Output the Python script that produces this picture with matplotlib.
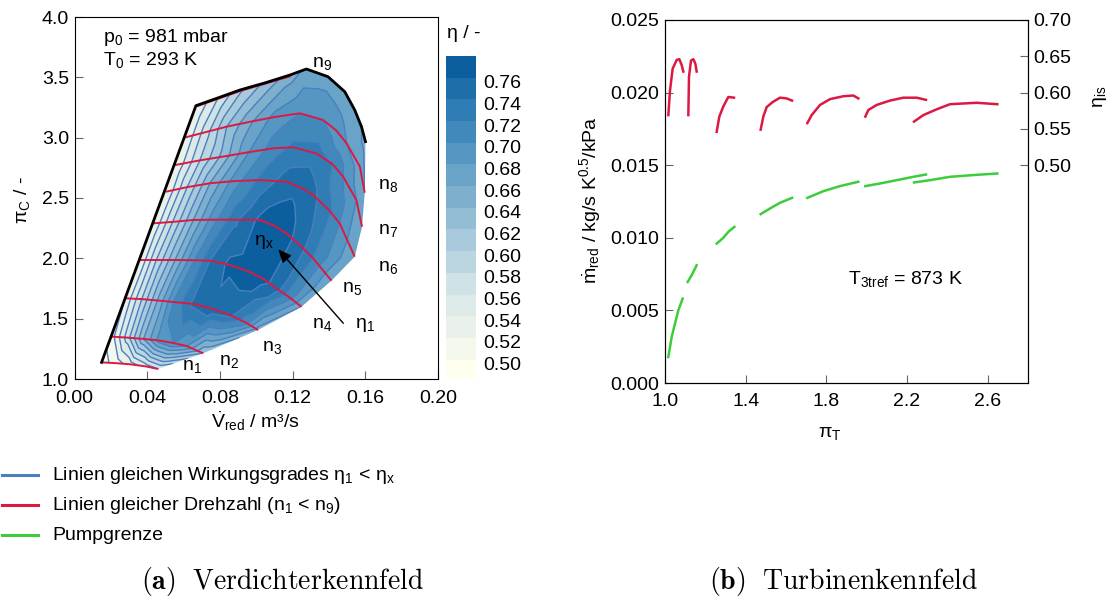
import numpy as np
import matplotlib
matplotlib.use("Agg")
import matplotlib.pyplot as plt
import matplotlib.tri as mtri
from matplotlib.path import Path
from matplotlib.patches import PathPatch
from matplotlib.colors import LinearSegmentedColormap, ListedColormap, BoundaryNorm
from matplotlib.lines import Line2D
from matplotlib.transforms import ScaledTranslation

plt.rcParams['font.family'] = ['Liberation Sans', 'DejaVu Sans']
plt.rcParams['mathtext.fontset'] = 'custom'
plt.rcParams['mathtext.rm'] = 'Liberation Sans'
plt.rcParams['mathtext.it'] = 'Liberation Sans:italic'
plt.rcParams['mathtext.bf'] = 'Liberation Sans:bold'
plt.rcParams['mathtext.sf'] = 'Liberation Sans'

# ---------------- compressor map: speed lines (V_red, pi_C, eta) ----------------
n1_V = [0.0149, 0.0230, 0.0305, 0.0390, 0.0461]
n1_pi = [1.138, 1.131, 1.122, 1.105, 1.083]
n1_eta = [0.49, 0.51, 0.53, 0.55, 0.56]

n2_V = [0.0204, 0.0290, 0.0380, 0.0470, 0.0545, 0.0617, 0.0708]
n2_pi = [1.351, 1.343, 1.332, 1.318, 1.298, 1.273, 1.213]
n2_eta = [0.51, 0.57, 0.64, 0.69, 0.70, 0.68, 0.62]

n3_V = [0.0278, 0.0370, 0.0470, 0.0560, 0.0653, 0.0760, 0.0855, 0.0940, 0.1010]
n3_pi = [1.669, 1.662, 1.649, 1.636, 1.622, 1.582, 1.530, 1.470, 1.406]
n3_eta = [0.52, 0.58, 0.65, 0.71, 0.745, 0.755, 0.745, 0.71, 0.65]

n4_V = [0.0360, 0.0450, 0.0562, 0.0660, 0.0745, 0.0850, 0.0947, 0.1040, 0.1111, 0.1180, 0.1249]
n4_pi = [1.986, 1.986, 1.986, 1.984, 1.981, 1.948, 1.898, 1.830, 1.751, 1.680, 1.599]
n4_eta = [0.52, 0.58, 0.645, 0.70, 0.74, 0.765, 0.772, 0.768, 0.75, 0.71, 0.66]

n5_V = [0.0434, 0.0540, 0.0654, 0.0760, 0.0880, 0.1020, 0.1100, 0.1166, 0.1240, 0.1313, 0.1414]
n5_pi = [2.290, 2.302, 2.318, 2.320, 2.320, 2.318, 2.270, 2.207, 2.110, 2.000, 1.815]
n5_eta = [0.52, 0.58, 0.64, 0.69, 0.735, 0.765, 0.772, 0.768, 0.75, 0.72, 0.66]

n6_V = [0.0503, 0.0620, 0.0745, 0.0880, 0.1020, 0.1166, 0.1240, 0.1313, 0.1400, 0.1459, 0.1542]
n6_pi = [2.552, 2.590, 2.622, 2.640, 2.649, 2.635, 2.590, 2.525, 2.400, 2.290, 2.014]
n6_eta = [0.52, 0.58, 0.64, 0.69, 0.725, 0.75, 0.755, 0.745, 0.725, 0.70, 0.66]

n7_V = [0.0553, 0.0690, 0.0837, 0.0960, 0.1093, 0.1203, 0.1331, 0.1420, 0.1478, 0.1551, 0.1582]
n7_pi = [2.773, 2.812, 2.848, 2.880, 2.912, 2.920, 2.870, 2.780, 2.677, 2.483, 2.262]
n7_eta = [0.52, 0.58, 0.635, 0.68, 0.71, 0.725, 0.73, 0.72, 0.70, 0.68, 0.66]

n8_V = [0.0604, 0.0720, 0.0837, 0.0960, 0.1093, 0.1240, 0.1368, 0.1440, 0.1497, 0.1570, 0.1597]
n8_pi = [3.000, 3.045, 3.091, 3.130, 3.169, 3.202, 3.146, 3.060, 2.953, 2.760, 2.544]
n8_eta = [0.52, 0.57, 0.62, 0.655, 0.685, 0.70, 0.70, 0.69, 0.68, 0.67, 0.66]

n9_V = [0.0677, 0.0910, 0.1185]
n9_pi = [3.262, 3.386, 3.508]

# upper envelope of the map (top speed line and its continuation)
top_V = [0.0668, 0.0790, 0.0910, 0.1050, 0.1185, 0.1276, 0.1395, 0.1487, 0.1542, 0.1579, 0.1601]
top_pi = [3.265, 3.330, 3.395, 3.455, 3.519, 3.569, 3.505, 3.381, 3.229, 3.091, 2.967]
top_eta = [0.52, 0.56, 0.595, 0.625, 0.65, 0.665, 0.67, 0.665, 0.665, 0.66, 0.655]

eta_levels = [0.48, 0.50, 0.52, 0.54, 0.56, 0.58, 0.60, 0.62, 0.64, 0.66,
              0.68, 0.70, 0.72, 0.74, 0.76, 0.78]
cbar_ticks = [0.50, 0.52, 0.54, 0.56, 0.58, 0.60, 0.62, 0.64, 0.66, 0.68,
              0.70, 0.72, 0.74, 0.76]

# ---------------- turbine map segments ----------------
eta_t1_pi = [1.0165, 1.0248, 1.038, 1.0579, 1.0711, 1.0826, 1.0909]
eta_t1 = [0.569, 0.603, 0.633, 0.645, 0.646, 0.638, 0.629]
eta_t2_pi = [1.1157, 1.119, 1.1289, 1.1405, 1.1504, 1.157]
eta_t2 = [0.569, 0.622, 0.644, 0.646, 0.640, 0.629]
eta_t3_pi = [1.2562, 1.2694, 1.2893, 1.314, 1.3421]
eta_t3 = [0.546, 0.567, 0.581, 0.594, 0.593]
eta_t4_pi = [1.4744, 1.4876, 1.5041, 1.5339, 1.5702, 1.6033, 1.6298]
eta_t4 = [0.549, 0.567, 0.580, 0.587, 0.593, 0.592, 0.589]
eta_t5_pi = [1.7058, 1.7273, 1.7686, 1.8182, 1.8843, 1.9339, 1.9587]
eta_t5 = [0.558, 0.569, 0.583, 0.591, 0.595, 0.596, 0.592]
eta_t6_pi = [1.9934, 2.0083, 2.0496, 2.1157, 2.1818, 2.2479, 2.2942]
eta_t6 = [0.567, 0.576, 0.583, 0.589, 0.593, 0.593, 0.590]
eta_t7_pi = [2.2347, 2.281, 2.3471, 2.4132, 2.4793, 2.5455, 2.6479]
eta_t7 = [0.560, 0.569, 0.577, 0.584, 0.585, 0.586, 0.584]

m_t1_pi = [1.0165, 1.0331, 1.0496, 1.0661, 1.0876]
m_t1 = [0.00179, 0.00317, 0.00409, 0.00501, 0.00581]
m_t2_pi = [1.1124, 1.1322, 1.157]
m_t2 = [0.00696, 0.00742, 0.00811]
m_t3_pi = [1.2562, 1.2893, 1.314, 1.3438]
m_t3 = [0.00960, 0.01000, 0.01041, 0.01075]
m_t4_pi = [1.4744, 1.5207, 1.5702, 1.6298]
m_t4 = [0.01163, 0.01202, 0.01241, 0.01275]
m_t5_pi = [1.7058, 1.7851, 1.8678, 1.9587]
m_t5 = [0.01275, 0.01321, 0.01356, 0.01386]
m_t6_pi = [1.9934, 2.0661, 2.1488, 2.2314, 2.2942]
m_t6 = [0.01356, 0.01374, 0.01397, 0.01420, 0.01436]
m_t7_pi = [2.2347, 2.314, 2.4132, 2.5289, 2.6479]
m_t7 = [0.01381, 0.01397, 0.01420, 0.01432, 0.01443]

# ---------------- styling ----------------
RED = '#dc1942'
GREEN = '#3ccc3c'
BLUE_LINE = '#4a80c0'
FS = 14

band_cmap = LinearSegmentedColormap.from_list(
    'eta', ['#fffff0', '#eaf1ea', '#cfe2e6', '#a9cadc', '#7eb0cd',
            '#5596c2', '#2f7db4', '#0b5f9e'])
n_bands = len(eta_levels) - 1
band_colors = [band_cmap(i / (n_bands - 1)) for i in range(n_bands)]
cmap = ListedColormap(band_colors)
cmap.set_under(band_colors[0])
cmap.set_over(band_colors[-1])
norm = BoundaryNorm(eta_levels, n_bands)

fig = plt.figure(figsize=(11.19, 5.98), dpi=100)

# ================= left: compressor map =================
ax = fig.add_axes([74.5 / 1119, 1 - 379 / 598, 363.5 / 1119, 362 / 598])

speed_lines = [(n1_V, n1_pi, n1_eta), (n2_V, n2_pi, n2_eta), (n3_V, n3_pi, n3_eta),
               (n4_V, n4_pi, n4_eta), (n5_V, n5_pi, n5_eta), (n6_V, n6_pi, n6_eta),
               (n7_V, n7_pi, n7_eta), (n8_V, n8_pi, n8_eta)]

pts_V = np.concatenate([np.asarray(s[0]) for s in speed_lines] + [np.asarray(top_V)])
pts_pi = np.concatenate([np.asarray(s[1]) for s in speed_lines] + [np.asarray(top_pi)])
pts_eta = np.concatenate([np.asarray(s[2]) for s in speed_lines] + [np.asarray(top_eta)])

# outline of the operating range: surge line, upper envelope, choke side, n1
outline = [(s[0][0], s[1][0]) for s in speed_lines]
outline += list(zip(top_V, top_pi))
outline += [(s[0][-1], s[1][-1]) for s in speed_lines[::-1]]
outline += list(zip(n1_V[::-1], n1_pi[::-1]))[1:]
outline_path = Path(outline + [outline[0]], closed=True)

# triangulate in axis-normalised coordinates so triangles are well shaped on screen
base = mtri.Triangulation(pts_V / 0.2, (pts_pi - 1.0) / 3.0)
tri = mtri.Triangulation(pts_V, pts_pi, base.triangles)
cx = pts_V[tri.triangles].mean(axis=1)
cy = pts_pi[tri.triangles].mean(axis=1)
tri.set_mask(~outline_path.contains_points(np.column_stack([cx, cy])))

clip = PathPatch(outline_path, transform=ax.transData, facecolor='none', edgecolor='none')
ax.add_patch(clip)
cf = ax.tricontourf(tri, pts_eta, levels=eta_levels, cmap=cmap, norm=norm, extend='both')
cf.set_clip_path(clip)
cl = ax.tricontour(tri, pts_eta, levels=eta_levels[1:-1], colors=BLUE_LINE, linewidths=1.0)
cl.set_clip_path(clip)

for V, p, _ in speed_lines:
    ax.plot(V, p, color=RED, lw=1.4, solid_capstyle='butt', zorder=4)
ax.plot(n9_V, n9_pi, color=RED, lw=1.4, zorder=4)

env_V = [n1_V[0]] + top_V
env_pi = [n1_pi[0]] + top_pi
ax.plot(env_V, env_pi, color='black', lw=2.0, zorder=5, solid_joinstyle='round')

ax.set_xlim(0.0, 0.20)
ax.set_ylim(1.0, 4.0)
ax.set_xticks([0.00, 0.04, 0.08, 0.12, 0.16, 0.20])
ax.set_xticklabels(['0.00', '0.04', '0.08', '0.12', '0.16', '0.20'])
ax.set_yticks([1.0, 1.5, 2.0, 2.5, 3.0, 3.5, 4.0])
ax.set_yticklabels(['1.0', '1.5', '2.0', '2.5', '3.0', '3.5', '4.0'])
ax.tick_params(direction='in', length=6, width=0.8, color='#666666', labelsize=FS, pad=4)
ax.tick_params(axis='x', pad=8)

speed_labels = [('n$_\\mathrm{1}$', 0.0645, 1.102), ('n$_\\mathrm{2}$', 0.0850, 1.143),
                ('n$_\\mathrm{3}$', 0.1088, 1.263), ('n$_\\mathrm{4}$', 0.1363, 1.448),
                ('n$_\\mathrm{5}$', 0.1528, 1.752), ('n$_\\mathrm{6}$', 0.1727, 1.926),
                ('n$_\\mathrm{7}$', 0.1727, 2.230), ('n$_\\mathrm{8}$', 0.1727, 2.603),
                ('n$_\\mathrm{9}$', 0.1363, 3.612)]
for s, x, y in speed_labels:
    ax.text(x, y, s, fontsize=FS, ha='center', va='center', zorder=6)

ax.text(0.1044, 2.138, 'η$_\\mathrm{x}$', fontsize=FS, ha='center', va='center', zorder=6)
ax.text(0.1598, 1.448, 'η$_\\mathrm{1}$', fontsize=FS, ha='center', va='center', zorder=6)
ax.annotate('', xy=(0.1121, 2.075), xytext=(0.1479, 1.462),
            arrowprops=dict(arrowstyle='-|>,head_length=0.8,head_width=0.35',
                            color='black', lw=1.0, shrinkA=0, shrinkB=0), zorder=6)

ax.text(0.0158, 3.833, 'p$_\\mathrm{0}$ = 981 mbar', fontsize=FS, ha='left', va='center')
ax.text(0.0158, 3.645, 'T$_\\mathrm{0}$ = 293 K', fontsize=FS, ha='left', va='center')

fig.text(22 / 1119, 1 - 200 / 598, 'π$_\\mathrm{C}$ / -', rotation=90, fontsize=FS,
         ha='center', va='center')
fig.text(255 / 1119, 1 - 421 / 598, '$\\dot{\\mathrm{V}}_\\mathrm{red}$ / m³/s',
         fontsize=FS, ha='center', va='center')

# colour bar
cax = fig.add_axes([446 / 1119, 1 - 378 / 598, 30 / 1119, 322 / 598])
for i in range(n_bands):
    cax.axhspan(eta_levels[i], eta_levels[i + 1], color=band_colors[i], lw=0)
cax.set_xlim(0, 1)
cax.set_ylim(0.483, 0.78)
cax.set_xticks([])
cax.yaxis.tick_right()
cax.set_yticks(cbar_ticks)
cax.set_yticklabels([f'{t:.2f}' for t in cbar_ticks])
cax.tick_params(axis='y', length=0, labelsize=FS, pad=5)
for lab in cax.get_yticklabels():
    lab.set_transform(lab.get_transform() + ScaledTranslation(0, -0.04, fig.dpi_scale_trans))
for sp in cax.spines.values():
    sp.set_visible(False)
fig.text(447 / 1119, 1 - 33 / 598, 'η / -', fontsize=FS, ha='left', va='center')

# legend
legend_items = [(BLUE_LINE, 'Linien gleichen Wirkungsgrades η$_\\mathrm{1}$ < η$_\\mathrm{x}$', 475),
                (RED, 'Linien gleicher Drehzahl (n$_\\mathrm{1}$ < n$_\\mathrm{9}$)', 505),
                (GREEN, 'Pumpgrenze', 535)]
for col, txt, ypx in legend_items:
    yf = 1 - ypx / 598
    fig.add_artist(Line2D([2 / 1119, 38 / 1119], [yf, yf], color=col, lw=2.2,
                          transform=fig.transFigure))
    fig.text(52 / 1119, yf, txt, fontsize=FS, ha='left', va='center')

# ================= right: turbine map =================
bx = fig.add_axes([665 / 1119, 1 - 383 / 598, 363 / 1119, 363 / 598])
bx2 = bx.twinx()

m_segments = [(m_t1_pi, m_t1), (m_t2_pi, m_t2), (m_t3_pi, m_t3), (m_t4_pi, m_t4),
              (m_t5_pi, m_t5), (m_t6_pi, m_t6), (m_t7_pi, m_t7)]
eta_segments = [(eta_t1_pi, eta_t1), (eta_t2_pi, eta_t2), (eta_t3_pi, eta_t3),
                (eta_t4_pi, eta_t4), (eta_t5_pi, eta_t5), (eta_t6_pi, eta_t6),
                (eta_t7_pi, eta_t7)]
for p, m in m_segments:
    bx.plot(p, m, color=GREEN, lw=1.8)
for p, e in eta_segments:
    bx2.plot(p, e, color=RED, lw=1.8)

bx.set_xlim(1.0, 2.8)
bx.set_ylim(0.0, 0.025)
bx.set_xticks([1.0, 1.4, 1.8, 2.2, 2.6])
bx.set_xticklabels(['1.0', '1.4', '1.8', '2.2', '2.6'])
bx.set_yticks([0.000, 0.005, 0.010, 0.015, 0.020, 0.025])
bx.set_yticklabels(['0.000', '0.005', '0.010', '0.015', '0.020', '0.025'])
bx.tick_params(direction='in', length=6, width=0.8, color='#666666', labelsize=FS, pad=4)
bx.tick_params(axis='x', pad=7)

bx2.set_ylim(0.2, 0.7)
bx2.set_yticks([0.50, 0.55, 0.60, 0.65, 0.70])
bx2.set_yticklabels(['0.50', '0.55', '0.60', '0.65', '0.70'])
bx2.tick_params(direction='in', length=6, width=0.8, color='#666666', labelsize=FS, pad=4)

bx.text(1.907, 0.00719, 'T$_\\mathrm{3tref}$ = 873 K', fontsize=FS, ha='left', va='center')

fig.text(590 / 1119, 1 - 200 / 598,
         '$\\dot{\\mathrm{m}}_\\mathrm{red}$ / kg/s K$^\\mathrm{0.5}$/kPa',
         rotation=90, fontsize=FS, ha='center', va='center')
fig.text(830 / 1119, 1 - 433 / 598, 'π$_\\mathrm{T}$', fontsize=FS, ha='center', va='center')
fig.text(1100 / 1119, 1 - 97 / 598, 'η$_\\mathrm{is}$', rotation=90, fontsize=FS,
         ha='center', va='center')

# captions
fig.text(283 / 1119, 1 - 582 / 598, '$\\mathbf{(a)}\\ \\ \\mathrm{Verdichterkennfeld}$',
         fontsize=20, ha='center', va='center', math_fontfamily='cm')
fig.text(843 / 1119, 1 - 582 / 598, '$\\mathbf{(b)}\\ \\ \\mathrm{Turbinenkennfeld}$',
         fontsize=20, ha='center', va='center', math_fontfamily='cm')

fig.savefig('out.png', dpi=100)
